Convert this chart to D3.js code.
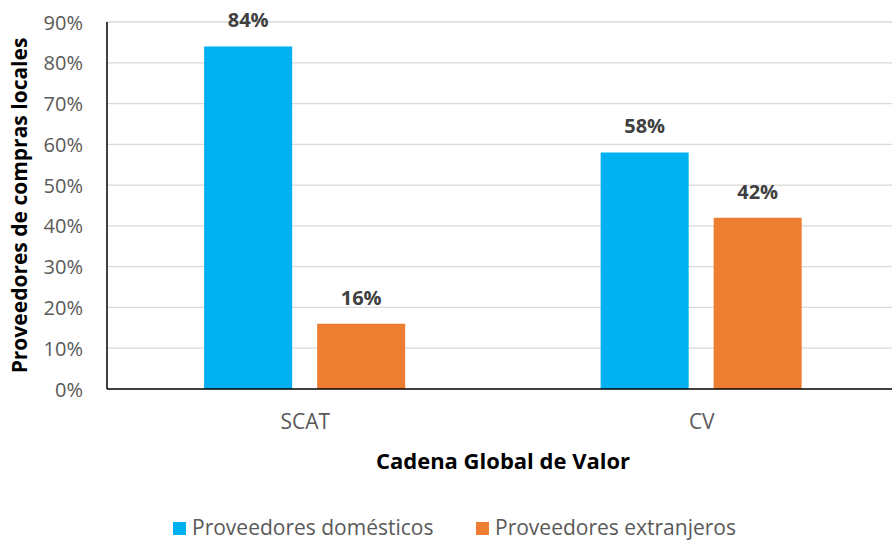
<!DOCTYPE html>
<html>
<head>
<meta charset="utf-8">
<script src="https://cdn.jsdelivr.net/npm/d3@7"></script>
<style>
  body { margin: 0; background: #fff; }
  text { font-family: "Open Sans", "Noto Sans", sans-serif; }
</style>
</head>
<body>
<div id="chart"></div>
<script>
// chart data
var categories = ["SCAT", "CV"];
var seriesNames = ["Proveedores domésticos", "Proveedores extranjeros"];
var domesticos = [84, 58];
var extranjeros = [16, 42];
var yTicks = [0, 10, 20, 30, 40, 50, 60, 70, 80, 90];

var colors = ["#00b0f0", "#ed7d31"];

var svgWidth = 892;
var svgHeight = 542;

var margin = { top: 22, right: -8, bottom: 153, left: 107 };
var width = svgWidth - margin.left - margin.right;
var height = svgHeight - margin.top - margin.bottom;

var svg = d3.select("#chart")
  .append("svg")
  .attr("width", svgWidth)
  .attr("height", svgHeight);

var chartGroup = svg.append("g")
  .attr("transform", `translate(${margin.left}, ${margin.top})`);

// scales
var x0 = d3.scaleBand()
  .domain(categories)
  .range([0, width]);

var bw = x0.bandwidth();
var x1 = d3.scaleBand()
  .domain(seriesNames)
  .range([bw * 0.245, bw * 0.752])
  .paddingInner(0.221);

var y = d3.scaleLinear()
  .domain([0, 90])
  .range([height, 0]);

// gridlines
chartGroup.selectAll(".grid")
  .data(yTicks.filter(d => d > 0))
  .enter()
  .append("line")
  .attr("x1", 0)
  .attr("x2", width)
  .attr("y1", d => y(d))
  .attr("y2", d => y(d))
  .attr("stroke", "#d9d9d9")
  .attr("stroke-width", 1.3);

// y tick labels
var leftAxis = d3.axisLeft(y).tickValues(yTicks).tickFormat(d => d + "%").tickSize(0).tickPadding(24);
var yAxis = chartGroup.append("g").call(leftAxis);
yAxis.select(".domain").remove();
yAxis.selectAll("text")
  .attr("fill", "#595959")
  .style("font-size", "20px")
  .attr("dy", "0.35em");

// bars
var rows = categories.map((c, i) => ({ cat: c, vals: [domesticos[i], extranjeros[i]] }));

var groups = chartGroup.selectAll(".group")
  .data(rows)
  .enter()
  .append("g")
  .attr("transform", d => `translate(${x0(d.cat)}, 0)`);

groups.selectAll("rect")
  .data(d => d.vals.map((v, j) => ({ name: seriesNames[j], value: v, idx: j })))
  .enter()
  .append("rect")
  .attr("x", d => x1(d.name))
  .attr("width", x1.bandwidth())
  .attr("y", d => y(d.value))
  .attr("height", d => height - y(d.value))
  .attr("fill", d => colors[d.idx]);

// value labels
groups.selectAll(".val")
  .data(d => d.vals.map((v, j) => ({ name: seriesNames[j], value: v })))
  .enter()
  .append("text")
  .attr("x", d => x1(d.name) + x1.bandwidth() / 2)
  .attr("y", d => y(d.value) - 19)
  .attr("text-anchor", "middle")
  .attr("fill", "#404040")
  .style("font-size", "20px")
  .style("font-weight", "bold")
  .text(d => d.value + "%");

// axis lines
chartGroup.append("line")
  .attr("x1", 0).attr("x2", 0)
  .attr("y1", 0).attr("y2", height)
  .attr("stroke", "#000").attr("stroke-width", 1.5);
chartGroup.append("line")
  .attr("x1", 0).attr("x2", width)
  .attr("y1", height).attr("y2", height)
  .attr("stroke", "#000").attr("stroke-width", 1.5);

// category labels
chartGroup.selectAll(".cat")
  .data(categories)
  .enter()
  .append("text")
  .attr("x", d => x0(d) + bw / 2)
  .attr("y", height + 40)
  .attr("text-anchor", "middle")
  .attr("fill", "#595959")
  .style("font-size", "21px")
  .text(d => d);

// axis titles
svg.append("text")
  .attr("x", 503)
  .attr("y", 469)
  .attr("text-anchor", "middle")
  .attr("fill", "#000")
  .style("font-size", "22px")
  .style("font-weight", "bold")
  .text("Cadena Global de Valor");

svg.append("text")
  .attr("transform", `translate(27, ${margin.top + height / 2}) rotate(-90)`)
  .attr("text-anchor", "middle")
  .attr("fill", "#000")
  .style("font-size", "21px")
  .style("font-weight", "bold")
  .text("Proveedores de compras locales");

// legend
var legendX = [173, 476];
var legend = svg.selectAll(".legend")
  .data(seriesNames)
  .enter()
  .append("g")
  .attr("transform", (d, i) => `translate(${legendX[i]}, 522)`);

legend.append("rect")
  .attr("width", 13)
  .attr("height", 13)
  .attr("fill", (d, i) => colors[i]);

legend.append("text")
  .attr("x", 19)
  .attr("y", 13)
  .attr("fill", "#595959")
  .style("font-size", "21px")
  .text(d => d);
</script>
</body>
</html>
